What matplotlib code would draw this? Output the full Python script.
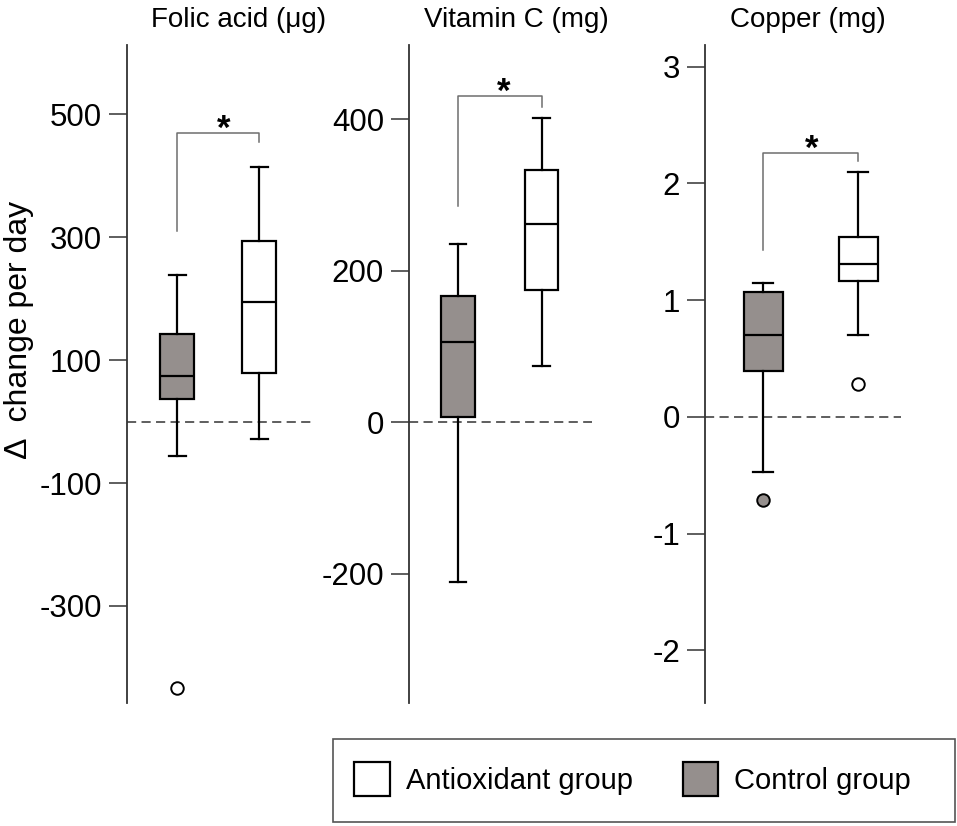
import matplotlib
matplotlib.use("Agg")
import matplotlib.pyplot as plt
from matplotlib.patches import Patch, Rectangle

plt.rcParams.update({"font.family": ["Liberation Sans", "DejaVu Sans"],
                     "axes.unicode_minus": False})

# panel titles and y ticks
titles = ["Folic acid (μg)", "Vitamin C (mg)", "Copper (mg)"]
folic_ticks = [500, 300, 100, -100, -300]
vitc_ticks = [400, 200, 0, -200]
copper_ticks = [3, 2, 1, 0, -1, -2]

# box summaries: whisker low, q1, median, q3, whisker high
folic_control = [-56, 37, 74, 143, 238]
folic_control_out = [-434]
folic_antiox = [-28, 79, 194, 294, 415]
folic_antiox_out = []

vitc_control = [-211, 7, 106, 166, 235]
vitc_control_out = []
vitc_antiox = [74, 174, 262, 333, 401]
vitc_antiox_out = []

copper_control = [-0.47, 0.39, 0.70, 1.07, 1.15]
copper_control_out = [-0.71]
copper_antiox = [0.70, 1.16, 1.31, 1.54, 2.10]
copper_antiox_out = [0.28]

# significance brackets: left end, top, right end
folic_bracket = [310, 470, 455]
vitc_bracket = [285, 430, 416]
copper_bracket = [1.43, 2.26, 2.19]

legend_labels = ["Antioxidant group", "Control group"]

GRAY = "#958f8d"


def stats(five, out):
    return dict(whislo=five[0], q1=five[1], med=five[2], q3=five[3],
                whishi=five[4], fliers=out)


W, H = 957, 826
fig = plt.figure(figsize=(W / 100, H / 100), dpi=100)

panels = [
    # rect px (left, right), ylim, xlim, box width, flier faces, star x
    dict(px=(127, 311), ylim=(-458, 613), xlim=(0.39, 2.634), w=0.415,
         ticks=folic_ticks, ctrl=(folic_control, folic_control_out),
         anti=(folic_antiox, folic_antiox_out), br=folic_bracket,
         faces=["white", "white"], sx=1.57),
    dict(px=(409, 592), ylim=(-371, 498), xlim=(0.415, 2.60), w=0.40,
         ticks=vitc_ticks, ctrl=(vitc_control, vitc_control_out),
         anti=(vitc_antiox, vitc_antiox_out), br=vitc_bracket,
         faces=["white", "white"], sx=1.54),
    dict(px=(705, 901), ylim=(-2.45, 3.185), xlim=(0.39, 2.45), w=0.41,
         ticks=copper_ticks, ctrl=(copper_control, copper_control_out),
         anti=(copper_antiox, copper_antiox_out), br=copper_bracket,
         faces=[GRAY, "white"], sx=1.51),
]

top_px, bot_px = 45, 703
for p in panels:
    l, r = p["px"]
    ax = fig.add_axes([l / W, 1 - bot_px / H, (r - l) / W, (bot_px - top_px) / H])
    ax.set_xlim(*p["xlim"])
    ax.set_ylim(*p["ylim"])

    bp = ax.bxp([stats(*p["ctrl"]), stats(*p["anti"])], positions=[1, 2],
                widths=p["w"], patch_artist=True, showfliers=True,
                boxprops=dict(linewidth=1.6, edgecolor="black"),
                medianprops=dict(color="black", linewidth=1.6),
                whiskerprops=dict(linewidth=1.6, color="black"),
                capprops=dict(linewidth=1.6, color="black"),
                flierprops=dict(marker="o", markersize=9, markeredgecolor="black",
                                markeredgewidth=1.4))
    bp["boxes"][0].set_facecolor(GRAY)
    bp["boxes"][1].set_facecolor("white")
    for fl, fc in zip(bp["fliers"], p["faces"]):
        fl.set_markerfacecolor(fc)

    ax.axhline(0, color="#333333", lw=1.1, ls=(0, (6, 3.5)), zorder=0.5)

    b = p["br"]
    ax.plot([1, 1, 2, 2], [b[0], b[1], b[1], b[2]], color="#6e6e6e", lw=1.1)
    ax.annotate("*", (p["sx"], b[1]), xytext=(0, -4), textcoords="offset points",
                ha="center", va="baseline", fontsize=25, fontweight="bold")

    for s in ["top", "right", "bottom"]:
        ax.spines[s].set_visible(False)
    ax.spines["left"].set_color("#333333")
    ax.spines["left"].set_linewidth(1.3)
    ax.set_xticks([])
    ax.set_yticks(p["ticks"])
    ax.set_yticklabels([str(t) for t in p["ticks"]], fontsize=22.5)
    ax.tick_params(axis="y", length=13, width=1.1, color="#333333", pad=5)
    ax.patch.set_alpha(0)

title_x = [238.5, 516.5, 807.5]
for t, x in zip(titles, title_x):
    fig.text(x / W, 1 - 27 / H, t, ha="center", va="baseline", fontsize=20)

fig.text(19 / W, 1 - 330 / H, "Δ  change per day", rotation=90,
         ha="center", va="center", fontsize=23)

# legend with its own frame
fig.patches.append(Rectangle((333 / W, 1 - 822 / H), (955 - 333) / W, (822 - 739) / H,
                             transform=fig.transFigure, fill=False,
                             edgecolor="#555555", lw=1.2))
handles = [Patch(facecolor="white", edgecolor="black", lw=1.6),
           Patch(facecolor=GRAY, edgecolor="black", lw=1.6)]
fig.legend(handles, legend_labels, loc="center left",
           bbox_to_anchor=(354 / W, 1 - 779 / H), ncol=2, frameon=False,
           prop=dict(size=21), handlelength=1.23,
           handleheight=1.44, handletextpad=0.55, columnspacing=1.7,
           borderpad=0, borderaxespad=0)

fig.savefig("out.png", dpi=100)
